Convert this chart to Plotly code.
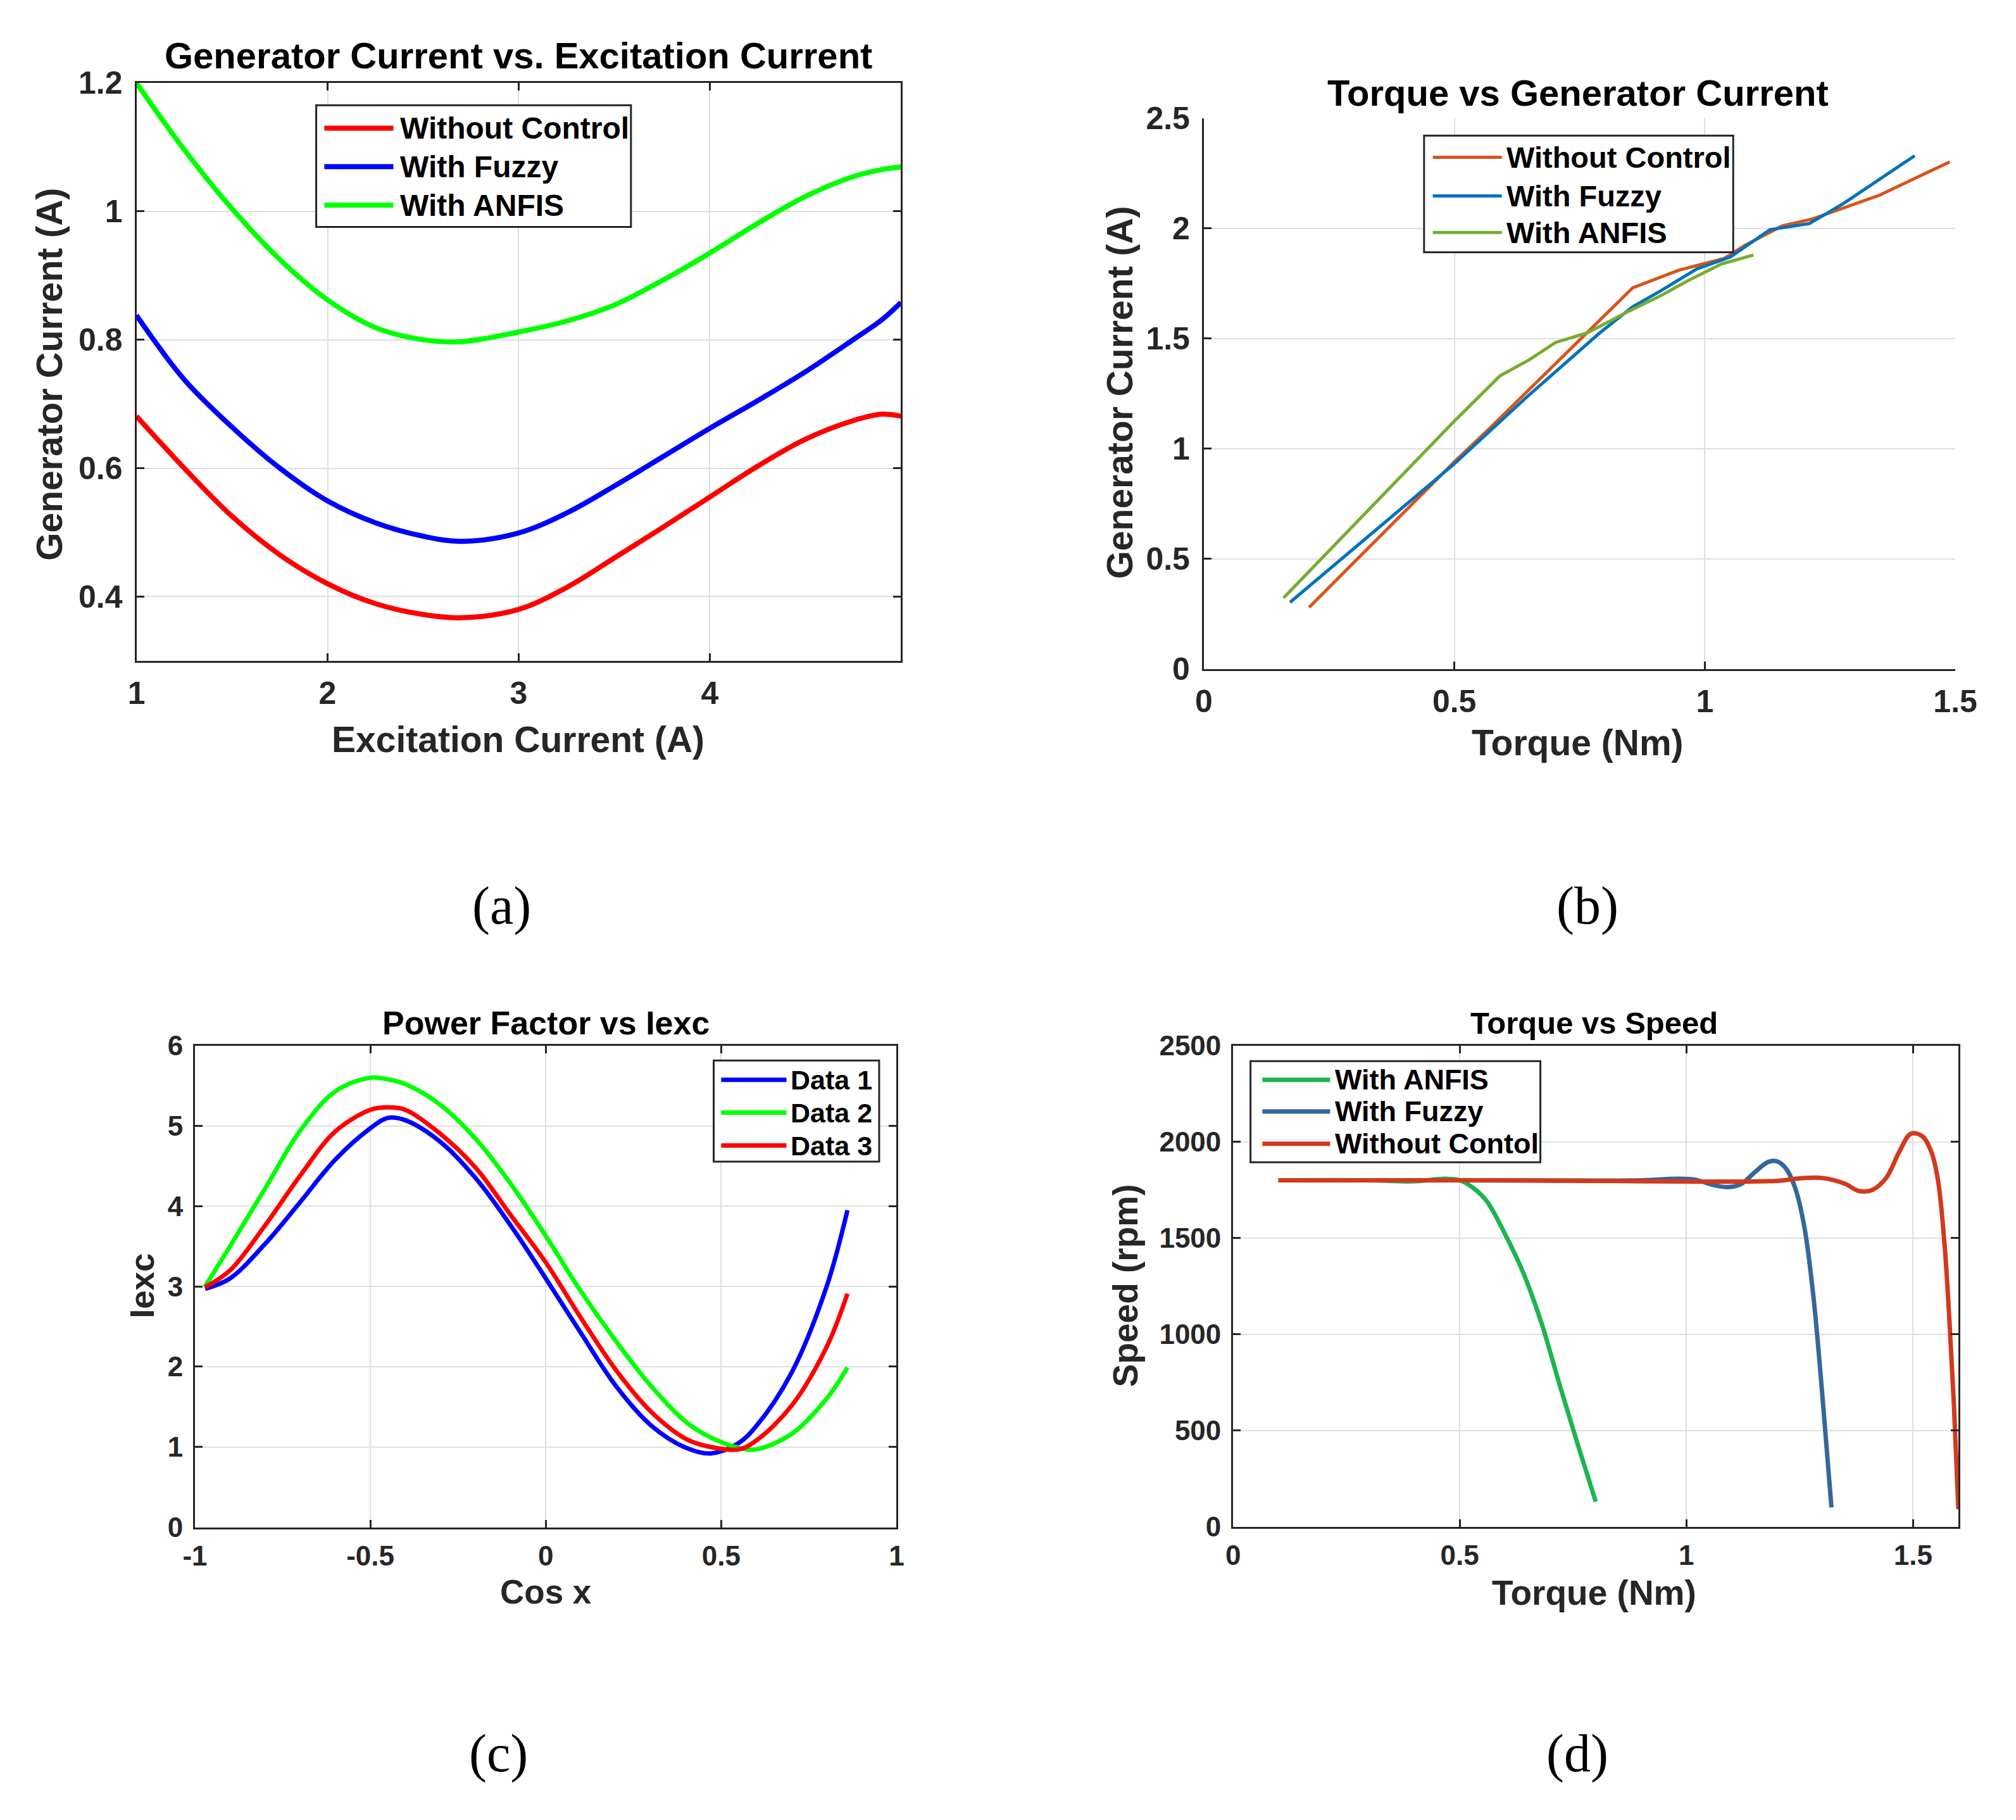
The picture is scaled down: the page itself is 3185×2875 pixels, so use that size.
import plotly.graph_objects as go

W, H = 3185, 2875

# ---- (a) Generator Current vs. Excitation Current
a_x = [1.0, 1.25, 1.5, 1.75, 2.0, 2.25, 2.5, 2.7, 3.0, 3.25, 3.5, 3.75, 4.0, 4.25, 4.5, 4.75, 4.9, 5.0]
a_without = [0.681, 0.600, 0.525, 0.465, 0.420, 0.389, 0.372, 0.367, 0.380, 0.414, 0.460, 0.507, 0.555, 0.603, 0.645, 0.674, 0.684, 0.681]
a_fuzzy = [0.838, 0.738, 0.664, 0.600, 0.549, 0.515, 0.494, 0.486, 0.499, 0.530, 0.572, 0.617, 0.662, 0.705, 0.750, 0.800, 0.831, 0.858]
a_anfis = [1.200, 1.096, 1.004, 0.925, 0.862, 0.819, 0.800, 0.797, 0.812, 0.829, 0.854, 0.892, 0.935, 0.981, 1.023, 1.054, 1.065, 1.069]
a_names = ["Without Control", "With Fuzzy", "With ANFIS"]

# ---- (b) Torque vs Generator Current
b_without_x = [0.210, 0.50, 0.571, 0.668, 0.765, 0.856, 0.948, 1.039, 1.081, 1.154, 1.215, 1.349, 1.489]
b_without_y = [0.279, 0.94, 1.093, 1.309, 1.525, 1.730, 1.810, 1.864, 1.924, 2.011, 2.043, 2.151, 2.302]
b_fuzzy_x = [0.172, 0.50, 0.644, 0.790, 0.856, 0.911, 0.984, 1.051, 1.130, 1.209, 1.276, 1.419]
b_fuzzy_y = [0.302, 0.931, 1.233, 1.525, 1.644, 1.715, 1.816, 1.870, 1.994, 2.022, 2.112, 2.330]
b_anfis_x = [0.159, 0.50, 0.591, 0.650, 0.702, 0.765, 0.850, 0.911, 0.966, 1.033, 1.097]
b_anfis_y = [0.322, 1.125, 1.330, 1.404, 1.482, 1.525, 1.626, 1.693, 1.762, 1.838, 1.879]
b_names = ["Without Control", "With Fuzzy", "With ANFIS"]

# ---- (c) Power Factor vs Iexc
c_x = [-0.971, -0.9, -0.8, -0.7, -0.6, -0.5, -0.45, -0.4, -0.3, -0.2, -0.1, 0.0, 0.1, 0.2, 0.3, 0.4, 0.47, 0.55, 0.6, 0.7, 0.8, 0.86]
c_data1 = [2.97, 3.10, 3.53, 4.05, 4.58, 4.97, 5.10, 5.07, 4.80, 4.35, 3.76, 3.10, 2.42, 1.76, 1.27, 0.99, 0.92, 1.05, 1.26, 1.92, 2.99, 3.95]
c_data2 = [3.00, 3.50, 4.22, 4.94, 5.43, 5.60, 5.58, 5.52, 5.26, 4.84, 4.28, 3.63, 2.94, 2.32, 1.76, 1.31, 1.12, 0.99, 0.97, 1.16, 1.60, 1.99]
c_data3 = [2.99, 3.20, 3.76, 4.38, 4.93, 5.20, 5.23, 5.20, 4.90, 4.48, 3.89, 3.30, 2.61, 1.96, 1.44, 1.10, 1.00, 0.97, 1.08, 1.51, 2.24, 2.91]
c_names = ["Data 1", "Data 2", "Data 3"]

# ---- (d) Torque vs Speed
d_anfis_x = [0.1, 0.3, 0.4, 0.45, 0.47, 0.5, 0.53, 0.56, 0.6, 0.64, 0.68, 0.72, 0.76, 0.8]
d_anfis_y = [1800, 1800, 1795, 1806, 1808, 1800, 1760, 1690, 1520, 1320, 1060, 740, 430, 130]
d_fuzzy_x = [0.1, 0.5, 0.9, 0.98, 1.02, 1.06, 1.09, 1.12, 1.15, 1.18, 1.2, 1.22, 1.24, 1.26, 1.28, 1.30, 1.32]
d_fuzzy_y = [1800, 1800, 1800, 1808, 1803, 1775, 1765, 1780, 1840, 1895, 1898, 1860, 1760, 1560, 1200, 680, 100]
d_without_x = [0.1, 0.6, 1.2, 1.25, 1.3, 1.35, 1.38, 1.41, 1.44, 1.47, 1.495, 1.52, 1.54, 1.555, 1.57, 1.58, 1.59, 1.60]
d_without_y = [1800, 1800, 1797, 1810, 1812, 1782, 1745, 1750, 1810, 1950, 2042, 2030, 1950, 1800, 1450, 1080, 640, 90]
d_names = ["With ANFIS", "With Fuzzy", "Without Contol"]

SANS = "Liberation Sans, Arial, sans-serif"
SERIF = "Liberation Serif, Times New Roman, serif"
INK = "#262626"

# plot boxes in pixels: left, right, top, bottom
boxes = {
    "a": (199, 1428, 106, 1037),
    "b": (1915, 3123, 163, 1050),
    "c": (293, 1421, 1657, 2433),
    "d": (1962, 3128, 1657, 2432),
}


def px(x, y):
    return x / W, 1 - y / H


def dom(key):
    l, r, t, b = boxes[key]
    return [l / W, r / W], [1 - b / H, 1 - t / H]


fig = go.Figure()


def line(x, y, name, color, width, xa, ya, spline=True):
    fig.add_trace(go.Scatter(x=x, y=y, name=name, mode="lines", showlegend=False,
                             line=dict(color=color, width=width,
                                       shape="spline" if spline else "linear", smoothing=1.0),
                             xaxis=xa, yaxis=ya))


a_cols = ["#FF0000", "#0000FF", "#00FF00"]
b_cols = ["#D95319", "#0072BD", "#77AC30"]
c_cols = ["#0000FF", "#00FF00", "#FF0000"]
d_cols = ["#1DB450", "#34679C", "#D13A1E"]

for yv, n, c in zip([a_without, a_fuzzy, a_anfis], a_names, a_cols):
    line(a_x, yv, n, c, 8, "x", "y")
for xv, yv, n, c in zip([b_without_x, b_fuzzy_x, b_anfis_x], [b_without_y, b_fuzzy_y, b_anfis_y], b_names, b_cols):
    line(xv, yv, n, c, 5, "x2", "y2", False)
for yv, n, c in zip([c_data1, c_data2, c_data3], c_names, c_cols):
    line(c_x, yv, n, c, 7, "x3", "y3")
for xv, yv, n, c in zip([d_anfis_x, d_fuzzy_x, d_without_x], [d_anfis_y, d_fuzzy_y, d_without_y], d_names, d_cols):
    line(xv, yv, n, c, 7, "x4", "y4")


def axis(key, which, anchor, rng, tickvals, fsize, box=True, ticktext=None, standoff=6):
    xd, yd = dom(key)
    d = dict(domain=xd if which == "x" else yd, anchor=anchor, range=rng, tickvals=tickvals,
             showline=True, linecolor=INK, linewidth=3, mirror="ticks" if box else False,
             ticks="inside", ticklen=12, tickwidth=3, tickcolor=INK,
             showgrid=True, gridcolor="#DFDFDF", gridwidth=2, zeroline=False,
             tickfont=dict(family=SANS, size=fsize, color=INK, weight="bold"),
             ticklabelstandoff=standoff)
    if ticktext:
        d["ticktext"] = ticktext
    return d


fig.update_layout(
    width=W, height=H, margin=dict(l=0, r=0, t=0, b=0),
    paper_bgcolor="white", plot_bgcolor="white", showlegend=False,
    xaxis=axis("a", "x", "y", [1, 5], [1, 2, 3, 4], 50, standoff=5),
    yaxis=axis("a", "y", "x", [0.3, 1.2], [0.4, 0.6, 0.8, 1.0, 1.2], 50, standoff=9),
    xaxis2=axis("b", "x", "y2", [0, 1.5], [0, 0.5, 1, 1.5], 50, box=False, standoff=5),
    yaxis2=axis("b", "y", "x2", [0, 2.5], [0, 0.5, 1, 1.5, 2, 2.5], 50, box=False, standoff=9),
    xaxis3=axis("c", "x", "y3", [-1, 1], [-1, -0.5, 0, 0.5, 1], 44,
                ticktext=["-1", "-0.5", "0", "0.5", "1"], standoff=5),
    yaxis3=axis("c", "y", "x3", [0, 6], [0, 1, 2, 3, 4, 5, 6], 44, standoff=7),
    xaxis4=axis("d", "x", "y4", [0, 1.6], [0, 0.5, 1, 1.5], 44, standoff=5),
    yaxis4=axis("d", "y", "x4", [0, 2500], [0, 500, 1000, 1500, 2000, 2500], 44, standoff=7),
)

annotations = []
shapes = []


def text(s, x, y, size, color="black", angle=0, family=SANS, bold=True, anchor="center"):
    ux, uy = px(x, y)
    annotations.append(dict(text=s, x=ux, y=uy, xref="paper", yref="paper", showarrow=False,
                            xanchor=anchor, yanchor="middle", textangle=angle,
                            font=dict(family=family, size=size, color=color,
                                      weight="bold" if bold else "normal")))


def legend_box(box, rows, line_x, text_x, names, colors, width, fsize):
    l, r, t, b = box
    x0, y0 = px(l, t)
    x1, y1 = px(r, b)
    shapes.append(dict(type="rect", xref="paper", yref="paper", x0=x0, y0=y1, x1=x1, y1=y0,
                       line=dict(color=INK, width=3), fillcolor="white", layer="above"))
    for ry, n, c in zip(rows, names, colors):
        lx0, ly = px(line_x[0], ry)
        lx1, _ = px(line_x[1], ry)
        shapes.append(dict(type="line", xref="paper", yref="paper", x0=lx0, x1=lx1, y0=ly, y1=ly,
                           line=dict(color=c, width=width), layer="above"))
        text(n, text_x, ry, fsize, anchor="left")


legend_box((488, 994, 142, 338), [179, 241, 303], (501, 612), 621, a_names, a_cols, 8, 48)
legend_box((2269, 2766, 191, 379), [226, 288, 347], (2283, 2394), 2399, b_names, b_cols, 5, 47)
legend_box((1127, 1393, 1681, 1844), [1712, 1765, 1818], (1139, 1244), 1249, c_names, c_cols, 7, 43)
legend_box((1990, 2456, 1682, 1845), [1712, 1763, 1815], (2009, 2118), 2124, d_names, d_cols, 7, 45)

# titles
text("Generator Current vs. Excitation Current", 813, 62, 58)
text("Torque vs Generator Current", 2516, 122, 58)
text("Power Factor vs Iexc", 857, 1621, 52)
text("Torque vs Speed", 2542, 1621, 49)
# axis labels
text("Excitation Current (A)", 813, 1164, 57, INK)
text("Generator Current (A)", 59, 575, 57, INK, -90)
text("Torque (Nm)", 2516, 1169, 57, INK)
text("Generator Current (A)", 1780, 605, 57, INK, -90)
text("Cos x", 857, 2537, 53, INK)
text("Iexc", 208, 2044, 53, INK, -90)
text("Torque (Nm)", 2542, 2538, 55, INK)
text("Speed (rpm)", 1789, 2044, 55, INK, -90)
# panel tags
text("(a)", 786, 1432, 84, "black", 0, SERIF, False)
text("(b)", 2532, 1432, 84, "black", 0, SERIF, False)
text("(c)", 781, 2797, 84, "black", 0, SERIF, False)
text("(d)", 2515, 2797, 84, "black", 0, SERIF, False)

fig.update_layout(annotations=annotations, shapes=shapes)

# drop the default page margin so the figure sits at the window origin
fig.write_html("out.html", config={"displayModeBar": False},
               post_script="document.body.style.margin='0';")
